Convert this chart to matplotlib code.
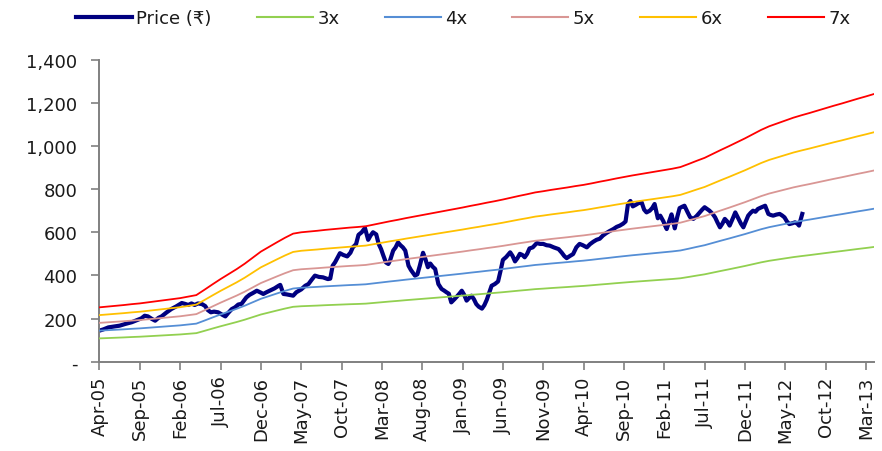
import numpy as np
import matplotlib
matplotlib.use("Agg")
import matplotlib.pyplot as plt
from matplotlib.ticker import FuncFormatter

# ---- data ----
tick_labels = ["Apr-05", "Sep-05", "Feb-06", "Jul-06", "Dec-06", "May-07", "Oct-07",
               "Mar-08", "Aug-08", "Jan-09", "Jun-09", "Nov-09", "Apr-10", "Sep-10",
               "Feb-11", "Jul-11", "Dec-11", "May-12", "Oct-12", "Mar-13"]
tick_months = [0, 5, 10, 15, 20, 25, 30, 35, 40, 45, 50, 55, 60, 65, 70, 75, 80, 85, 90, 95]

# trailing EPS (Rs) by month, starting Apr-05
eps = [36.0, 36.5, 37.0, 37.5, 38.1, 38.6, 39.3, 40.0, 40.7, 41.4,
       42.1, 43.1, 44.1, 47.6, 51.2, 54.7, 58.0, 61.3, 64.9, 68.9,
       72.9, 76.0, 79.1, 82.1, 84.8, 85.7, 86.2, 86.7, 87.3, 87.8,
       88.3, 88.8, 89.2, 89.7, 90.8, 91.9, 93.0, 94.0, 95.1, 96.1,
       97.1, 98.1, 99.1, 100.1, 101.1, 102.1, 103.2, 104.2, 105.3, 106.3,
       107.4, 108.6, 109.8, 110.9, 112.1, 112.9, 113.8, 114.6, 115.4, 116.3,
       117.1, 118.1, 119.2, 120.2, 121.3, 122.3, 123.3, 124.2, 125.1, 126.0,
       126.9, 127.8, 128.9, 130.9, 133.0, 135.0, 137.6, 140.2, 142.7, 145.3,
       147.9, 150.7, 153.5, 155.9, 157.8, 159.7, 161.6, 163.2, 164.7, 166.3,
       167.9, 169.5, 171.0, 172.6, 174.2, 175.7, 177.3]
eps_months = list(range(len(eps)))

multiples = [3, 4, 5, 6, 7]
band_labels = ["3x", "4x", "5x", "6x", "7x"]
band_colors = ["#92D050", "#558ED5", "#D99694", "#FFC000", "#FF0000"]

price_months = [0.0, 0.5, 1.1, 1.8, 2.5, 3.2, 4.0, 4.6, 5.2, 5.6, 6.0, 6.5, 6.9, 7.3, 7.7,
                8.3, 8.9, 9.5, 10.2, 10.6, 11.0, 11.4, 11.8, 12.2, 12.7, 13.1, 13.4, 13.8,
                14.2, 14.7, 15.2, 15.6, 16.0, 16.4, 16.8, 17.2, 17.6, 18.2, 18.6, 19.0,
                19.5, 20.0, 20.3, 20.7, 21.1, 21.7, 22.2, 22.4, 22.8, 23.2, 23.6, 24.0,
                24.4, 25.0, 25.5, 25.9, 26.3, 26.7, 27.2, 27.7, 28.3, 28.6, 28.9, 29.2,
                29.8, 30.2, 30.7, 31.1, 31.4, 31.8, 32.1, 32.5, 32.9, 33.3, 33.6, 33.9,
                34.3, 34.6, 34.9, 35.2, 35.5, 35.8, 36.0, 36.4, 36.7, 37.0, 37.3, 37.6,
                37.9, 38.3, 38.6, 39.1, 39.4, 39.7, 40.1, 40.4, 40.7, 41.0, 41.3, 41.6,
                42.0, 42.4, 42.7, 43.0, 43.3, 43.6, 44.0, 44.3, 44.6, 44.9, 45.2, 45.5,
                45.8, 46.1, 46.4, 46.7, 47.0, 47.4, 47.7, 48.0, 48.3, 48.6, 49.0, 49.4,
                49.7, 50.0, 50.4, 50.9, 51.2, 51.5, 51.8, 52.1, 52.4, 52.7, 53.0, 53.3,
                53.7, 54.2, 54.6, 55.0, 55.4, 55.8, 56.3, 56.9, 57.3, 57.6, 57.9, 58.3,
                58.7, 59.1, 59.5, 59.9, 60.4, 60.8, 61.2, 61.6, 62.0, 62.4, 62.8, 63.2,
                63.7, 64.1, 64.5, 64.9, 65.2, 65.5, 65.8, 66.1, 66.5, 66.8, 67.2, 67.5,
                67.8, 68.2, 68.5, 68.8, 69.2, 69.5, 69.9, 70.1, 70.3, 70.6, 70.9, 71.1,
                71.3, 71.6, 71.9, 72.2, 72.5, 72.9, 73.2, 73.6, 74.0, 74.4, 74.7, 75.0,
                75.3, 75.6, 76.0, 76.3, 76.6, 76.9, 77.2, 77.5, 77.8, 78.1, 78.5, 78.8,
                79.2, 79.5, 79.8, 80.1, 80.4, 80.7, 81.0, 81.3, 81.6, 82.0, 82.5, 82.9,
                83.2, 83.5, 83.9, 84.3, 84.6, 84.9, 85.2, 85.5, 85.9, 86.2, 86.5, 86.7,
                87.1]
price = [144, 150, 159, 163, 167, 175, 183, 192, 201, 213, 210, 198, 190, 203, 210,
         228, 244, 256, 272, 268, 263, 270, 263, 270, 267, 258, 240, 229,
         232, 229, 218, 210, 228, 244, 252, 265, 268, 298, 310, 318,
         329, 320, 314, 322, 329, 340, 352, 356, 314, 312, 309, 306,
         322, 335, 352, 360, 380, 399, 393, 391, 383, 385, 445, 461,
         503, 495, 488, 505, 530, 545, 588, 600, 620, 565, 585, 600,
         590, 546, 522, 490, 460, 453, 468, 515, 530, 553, 540, 530,
         515, 445, 425, 399, 405, 445, 505, 475, 438, 455, 440, 430,
         360, 337, 330, 322, 315, 275, 290, 302, 315, 329, 310, 283,
         295, 306, 290, 267, 255, 246, 262, 287, 320, 352, 360, 372,
         420, 472, 485, 507, 490, 465, 480, 500, 495, 484, 500, 525,
         530, 550, 546, 546, 540, 538, 530, 522, 505, 490, 480, 490,
         499, 530, 546, 540, 530, 545, 556, 565, 570, 585, 596, 605,
         615, 625, 631, 640, 650, 731, 745, 720, 728, 735, 738, 705,
         692, 700, 712, 731, 665, 677, 650, 631, 615, 650, 683, 650,
         618, 670, 712, 718, 723, 692, 670, 662, 675, 692, 705, 716,
         708, 700, 685, 669, 645, 623, 640, 662, 650, 631, 665, 692,
         662, 640, 623, 650, 677, 690, 700, 695, 708, 715, 723, 685,
         680, 677, 682, 685, 678, 669, 650, 638, 642, 646, 640, 631,
         685]

yticks = [0, 200, 400, 600, 800, 1000, 1200, 1400]

# ---- figure ----
plt.rcParams['font.family'] = ['DejaVu Sans']
fig = plt.figure(figsize=(8.82, 4.52), dpi=100)
ax = fig.add_axes([0.1128, 0.1976, 0.8782, 0.6681])

ax.plot(price_months, price, color="#000080", lw=3.0, label="Price (₹)", zorder=2,
        solid_joinstyle="round")
for mult, lab, col in zip(multiples, band_labels, band_colors):
    ax.plot(eps_months, np.array(eps) * mult, color=col, lw=1.3, label=lab, zorder=3)

ax.set_xlim(0, 96)
ax.set_ylim(0, 1400)
ax.set_yticks(yticks)
ax.yaxis.set_major_formatter(FuncFormatter(lambda v, p: "-" if v == 0 else f"{int(v):,}"))
ax.set_xticks(tick_months)
ax.set_xticklabels(tick_labels, rotation=90)

for s in ["top", "right"]:
    ax.spines[s].set_visible(False)
for s in ["left", "bottom"]:
    ax.spines[s].set_color("#808080")
    ax.spines[s].set_linewidth(1.4)
ax.tick_params(axis="both", direction="out", length=6, width=1.2, color="#808080",
               labelsize=13, labelcolor="#1a1a1a")
ax.tick_params(axis="y", pad=10)
ax.tick_params(axis="x", pad=4)

leg = fig.legend(loc="center", bbox_to_anchor=(0.525, 0.958), ncol=6, frameon=False,
                 fontsize=13, handlelength=3.1, handletextpad=0.25, columnspacing=2.5)
for t in leg.get_texts():
    t.set_color("#1a1a1a")
for h in leg.get_lines()[1:]:
    h.set_linewidth(1.5)

fig.savefig("out.png", dpi=100)
